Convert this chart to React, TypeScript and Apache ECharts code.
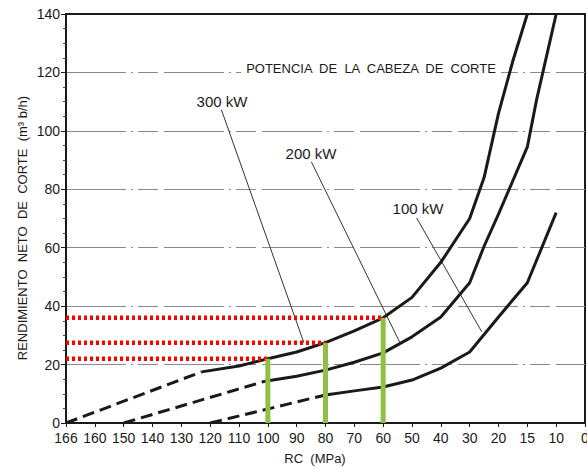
import React, { useEffect, useRef } from "react";
import * as echarts from "echarts";

// X axis tick labels (RC, MPa) – the axis is drawn with equal spacing per tick
const xTicks = [166, 160, 150, 140, 130, 120, 110, 100, 90, 80, 70, 60, 50, 40, 30, 20, 15, 10, 0];

// 300 kW curve
const kw300DashRC = [166, 123];
const kw300DashVal = [0, 17.5];
const kw300RC = [123, 110, 100, 90, 80, 70, 60, 50, 40, 30, 25, 20, 17.5, 15];
const kw300Val = [17.5, 19.5, 22, 24.3, 27.5, 31.5, 36, 43, 55, 70, 84, 106, 124, 140];

// 200 kW curve
const kw200DashRC = [150, 101];
const kw200DashVal = [0, 14.3];
const kw200RC = [101, 90, 80, 70, 60, 50, 40, 30, 25, 20, 15, 13.4, 10];
const kw200Val = [14.3, 16, 18.1, 20.8, 24, 29.5, 36.3, 48, 60.5, 71.5, 94.5, 110.6, 140];

// 100 kW curve
const kw100DashRC = [120, 80];
const kw100DashVal = [0, 9.6];
const kw100RC = [80, 70, 60, 50, 40, 30, 20, 15, 10];
const kw100Val = [9.6, 11, 12.3, 14.7, 18.8, 24.3, 36.3, 48, 72];

// leader lines from labels to curves
const leader300RC = [116.1, 87.5];
const leader300Val = [107.2, 27.5];
const leader200RC = [84.9, 54.3];
const leader200Val = [89.4, 27.7];
const leader100RC = [48.4, 25.8];
const leader100Val = [70.2, 31.2];

// readings (green verticals, red dotted horizontals)
const readRC = [100, 80, 60];
const readVal = [22, 27.5, 36];

// map RC value to axis position (one unit per tick)
function rcPos(rc: number): number {
  for (let i = 0; i < xTicks.length - 1; i++) {
    const a = xTicks[i];
    const b = xTicks[i + 1];
    if (rc <= a && rc >= b) return i + (a - rc) / (a - b);
  }
  return rc > xTicks[0] ? 0 : xTicks.length - 1;
}

function pts(rcs: number[], vals: number[]) {
  return rcs.map((r, i) => [rcPos(r), vals[i]]);
}

const FONT = "Liberation Sans, Arial, sans-serif";
const INK = "#1a1a1a";

export default function App() {
  const ref = useRef<HTMLDivElement>(null);

  useEffect(() => {
    if (!ref.current) return;
    const chart = echarts.init(ref.current, undefined, { renderer: "svg" });

    const curve = (data: number[][], dashed: boolean) => ({
      type: "line",
      data,
      symbol: "none",
      smooth: false,
      lineStyle: { color: INK, width: 3, type: dashed ? [12, 6] : "solid", join: "round", cap: "butt" },
      z: 3,
      silent: true,
    });
    const leader = (data: number[][]) => ({
      type: "line",
      data,
      symbol: "none",
      lineStyle: { color: "#333", width: 1 },
      z: 2,
      silent: true,
    });

    const reds = readRC.map((rc, i) => ({
      type: "line",
      data: [
        [rcPos(xTicks[0]), readVal[i]],
        [rcPos(rc), readVal[i]],
      ],
      symbol: "none",
      lineStyle: { color: "#ff0000", width: 4.5, type: [3, 3] },
      z: 4,
      silent: true,
    }));
    const greens = readRC.map((rc, i) => ({
      type: "line",
      data: [
        [rcPos(rc), 0],
        [rcPos(rc), readVal[i]],
      ],
      symbol: "none",
      lineStyle: { color: "#8fbf45", width: 5 },
      z: 5,
      silent: true,
    }));

    chart.setOption({
      animation: false,
      backgroundColor: "#ffffff",
      grid: {
        left: 66,
        right: 2,
        top: 14,
        bottom: 45,
        outerBoundsMode: "none",
        containLabel: false,
        show: true,
        borderColor: INK,
        borderWidth: 2,
      },
      xAxis: {
        type: "value",
        min: 0,
        max: xTicks.length - 1,
        interval: 1,
        axisLine: { show: true, lineStyle: { color: INK, width: 2 } },
        axisTick: { show: true, length: 4, lineStyle: { color: INK } },
        axisLabel: {
          color: INK,
          fontSize: 14,
          fontFamily: FONT,
          margin: 8,
          showMaxLabel: true,
          showMinLabel: true,
          formatter: (v: number) => String(xTicks[Math.round(v)]),
        },
        splitLine: { show: false },
      },
      yAxis: {
        type: "value",
        min: 0,
        max: 140,
        interval: 20,
        axisLine: { show: true, lineStyle: { color: INK, width: 2 } },
        axisTick: { show: true, length: 5, lineStyle: { color: INK } },
        minorTick: { show: true, splitNumber: 4, length: 3, lineStyle: { color: "#444" } },
        axisLabel: { color: INK, fontSize: 14, fontFamily: FONT, margin: 6 },
        splitLine: {
          show: true,
          showMinLine: false,
          showMaxLine: false,
          lineStyle: { color: "#8a8a8a", width: 1, type: [60, 5, 2, 5, 20, 6] },
        },
      },
      graphic: [
        {
          type: "text",
          x: 22,
          y: 228,
          rotation: Math.PI / 2,
          style: {
            text: "RENDIMIENTO  NETO  DE  CORTE  (m³ b/h)",
            fontSize: 13,
            fontFamily: FONT,
            fill: INK,
            align: "center",
            verticalAlign: "middle",
          },
        },
        {
          type: "text",
          x: 315,
          y: 458,
          style: {
            text: "RC  (MPa)",
            fontSize: 13,
            fontFamily: FONT,
            fill: INK,
            align: "center",
            verticalAlign: "middle",
          },
        },
        {
          type: "text",
          x: 371,
          y: 68,
          style: {
            text: "POTENCIA  DE  LA  CABEZA  DE  CORTE",
            fontSize: 13,
            fontFamily: FONT,
            fill: INK,
            align: "center",
            verticalAlign: "middle",
            backgroundColor: "#ffffff",
            padding: [2, 4],
          },
          z: 10,
        },
        {
          type: "text",
          x: 222,
          y: 101,
          style: { text: "300 kW", fontSize: 15, fontFamily: FONT, fill: INK, align: "center", verticalAlign: "middle" },
        },
        {
          type: "text",
          x: 311,
          y: 153,
          style: { text: "200 kW", fontSize: 15, fontFamily: FONT, fill: INK, align: "center", verticalAlign: "middle" },
        },
        {
          type: "text",
          x: 418,
          y: 208,
          style: { text: "100 kW", fontSize: 15, fontFamily: FONT, fill: INK, align: "center", verticalAlign: "middle" },
        },
      ],
      series: [
        curve(pts(kw300DashRC, kw300DashVal), true),
        curve(pts(kw300RC, kw300Val), false),
        curve(pts(kw200DashRC, kw200DashVal), true),
        curve(pts(kw200RC, kw200Val), false),
        curve(pts(kw100DashRC, kw100DashVal), true),
        curve(pts(kw100RC, kw100Val), false),
        leader(pts(leader300RC, leader300Val)),
        leader(pts(leader200RC, leader200Val)),
        leader(pts(leader100RC, leader100Val)),
        ...reds,
        ...greens,
      ],
    });

    return () => chart.dispose();
  }, []);

  return <div ref={ref} style={{ width: 587, height: 468, position: "absolute", left: 0, top: 0 }} />;
}
